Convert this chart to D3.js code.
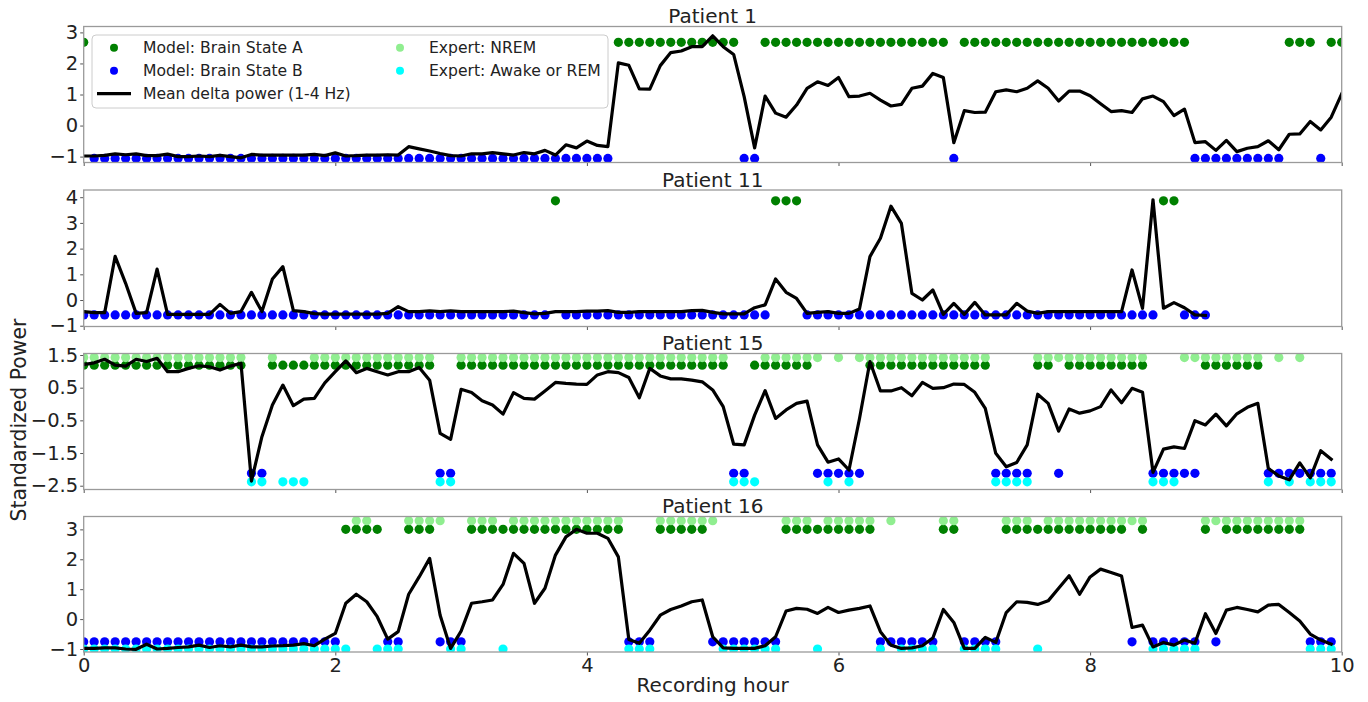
<!DOCTYPE html>
<html>
<head>
<meta charset="utf-8">
<script src="https://cdn.jsdelivr.net/npm/d3@7"></script>
<style>
  html, body { margin: 0; padding: 0; background: #fff; }
  svg { display: block; font-family: "DejaVu Sans", sans-serif; }
</style>
</head>
<body>
<svg id="chart" width="1368" height="702"></svg>
<script>
// ---------- data ----------
// One sample every 5 minutes; hour of sample i = i * EPOCH_MINUTES / 60
const EPOCH_MINUTES = 5;

const patientNames = ["Patient 1", "Patient 11", "Patient 15", "Patient 16"];

// Mean delta power (1-4 Hz), standardized, one value per epoch
const p1Power = [
  -0.98, -0.98, -0.96, -0.91, -0.94, -0.91, -0.97, -0.97, -0.92, -1.00,
  -1.00, -0.98, -1.00, -0.96, -1.00, -1.04, -0.93, -0.95, -0.95, -0.95,
  -0.95, -0.95, -0.93, -0.97, -0.88, -0.98, -0.97, -0.95, -0.95, -0.94,
  -0.95, -0.68, -0.75, -0.82, -0.90, -0.97, -0.98, -0.91, -0.91, -0.87,
  -0.91, -0.95, -0.87, -0.91, -0.80, -0.95, -0.62, -0.72, -0.50, -0.64,
  -0.68, 2.02, 1.94, 1.18, 1.17, 1.93, 2.35, 2.40, 2.54, 2.54,
  2.89, 2.54, 2.29, 0.93, -0.72, 0.95, 0.40, 0.27, 0.66, 1.20,
  1.41, 1.29, 1.55, 0.93, 0.95, 1.04, 0.82, 0.63, 0.68, 1.20,
  1.27, 1.68, 1.55, -0.55, 0.48, 0.42, 0.43, 1.09, 1.15, 1.09,
  1.20, 1.44, 1.20, 0.79, 1.11, 1.11, 0.96, 0.70, 0.45, 0.48,
  0.42, 0.86, 0.95, 0.77, 0.32, 0.53, -0.55, -0.52, -0.80, -0.48,
  -0.84, -0.73, -0.68, -0.49, -0.78, -0.28, -0.27, 0.13, -0.14, 0.27,
  1.02
];
const p11Power = [
  -0.45, -0.49, -0.49, 1.70, 0.65, -0.52, -0.49, 1.20, -0.56, -0.56,
  -0.56, -0.56, -0.56, -0.17, -0.52, -0.45, 0.30, -0.45, 0.82, 1.30,
  -0.41, -0.45, -0.53, -0.55, -0.55, -0.55, -0.55, -0.55, -0.55, -0.52,
  -0.26, -0.45, -0.45, -0.42, -0.45, -0.42, -0.45, -0.45, -0.45, -0.45,
  -0.45, -0.43, -0.49, -0.54, -0.52, -0.45, -0.45, -0.45, -0.43, -0.43,
  -0.41, -0.48, -0.48, -0.45, -0.45, -0.45, -0.45, -0.45, -0.41, -0.40,
  -0.48, -0.54, -0.54, -0.54, -0.30, -0.19, 0.82, 0.30, 0.06, -0.52,
  -0.48, -0.45, -0.52, -0.52, -0.35, 1.69, 2.40, 3.65, 2.98, 0.26,
  0.00, 0.39, -0.56, -0.13, -0.56, -0.09, -0.58, -0.58, -0.58, -0.13,
  -0.43, -0.52, -0.45, -0.45, -0.45, -0.45, -0.45, -0.45, -0.45, -0.45,
  1.17, -0.32, 3.90, -0.32, -0.10, -0.30, -0.58, -0.60
];
const p15Power = [
  1.21, 1.26, 1.37, 1.19, 1.16, 1.37, 1.30, 1.40, 0.99, 0.99,
  1.09, 1.17, 1.14, 1.04, 1.16, 1.25, -2.36, -1.00, -0.03, 0.58,
  -0.05, 0.15, 0.17, 0.65, 0.99, 1.32, 0.96, 1.09, 0.99, 0.89,
  0.99, 0.99, 1.12, 0.73, -0.90, -1.08, 0.45, 0.35, 0.10, -0.03,
  -0.31, 0.35, 0.17, 0.15, 0.40, 0.66, 0.63, 0.61, 0.60, 0.89,
  0.99, 0.96, 0.81, 0.19, 1.09, 0.86, 0.77, 0.77, 0.73, 0.68,
  0.43, -0.08, -1.23, -1.25, -0.34, 0.41, -0.44, -0.18, 0.02, 0.09,
  -1.25, -1.78, -1.68, -2.02, -0.45, 1.30, 0.40, 0.40, 0.50, 0.25,
  0.66, 0.48, 0.50, 0.61, 0.60, 0.36, -0.13, -1.51, -1.92, -1.79,
  -1.25, 0.30, 0.02, -0.83, -0.15, -0.28, -0.21, -0.08, 0.43, 0.04,
  0.48, 0.36, -2.09, -1.38, -1.31, -1.36, -0.51, -0.64, -0.31, -0.67,
  -0.30, -0.10, 0.02, -1.97, -2.20, -2.32, -1.80, -2.26, -1.43, -1.69
];
const p16Power = [
  -0.98, -0.98, -0.96, -0.96, -1.00, -1.01, -0.84, -1.00, -0.98, -0.95,
  -0.93, -0.87, -0.95, -0.89, -0.93, -0.87, -0.93, -0.93, -0.90, -0.89,
  -0.87, -0.82, -0.89, -0.67, -0.48, 0.53, 0.83, 0.58, 0.08, -0.67,
  -0.42, 0.83, 1.41, 2.03, 0.13, -0.98, -0.40, 0.53, 0.58, 0.64,
  1.16, 2.20, 1.86, 0.53, 1.03, 2.14, 2.75, 3.00, 2.87, 2.87,
  2.70, 2.08, -0.68, -0.81, -0.37, 0.13, 0.32, 0.44, 0.58, 0.64,
  -0.59, -0.96, -0.98, -0.98, -0.98, -0.89, -0.59, 0.27, 0.36, 0.33,
  0.19, 0.39, 0.22, 0.30, 0.36, 0.44, -0.42, -0.87, -0.98, -0.96,
  -0.89, -0.63, 0.32, -0.11, -0.98, -0.98, -0.61, -0.78, 0.22, 0.58,
  0.56, 0.49, 0.61, 1.03, 1.45, 0.83, 1.41, 1.67, 1.56, 1.44,
  -0.28, -0.20, -0.93, -0.78, -0.87, -0.70, -0.81, 0.18, -0.48, 0.30,
  0.39, 0.32, 0.24, 0.47, 0.49, 0.22, -0.06, -0.50, -0.70, -0.84
];

// Model brain state per epoch, run-length coded: A = state A, B = state B
const p1Model  = "A1 B50 A12 B2 A18 B1 A22 B9 A3 B1 A2";
const p11Model = "B45 A1 B20 A3 B34 A2 B3";
const p15Model = "A16 B2 A16 B2 A26 B2 A6 B5 A12 B4 A2 B1 A8 B5 A6 B7";
const p16Model = "B25 A4 B2 A3 B3 A15 B3 A5 B7 A9 B6 A2 B4 A12 B1 A1 B5 A1 B1 A8 B3";

// Expert scoring per epoch, run-length coded: N = NREM, W = awake or REM
const p1Expert  = "";
const p11Expert = "";
const p15Expert = "N16 W2 N1 W3 N12 W2 N26 W3 N6 W1 N1 W1 N13 W4 N11 W3 N8 W1 N1 W1 N1 W3";
const p16Expert = "W26 N2 W3 N4 W2 N3 W1 N11 W3 N6 W6 N3 W1 N5 W1 N1 W4 N2 W4 N3 W1 N10 W5 N10 W3";

// Level (in standardized power) at which each label row is drawn: [A, B, N, W]
const p1Levels  = [2.68, -1.06, null, null];
const p11Levels = [3.86, -0.58, null, null];
const p15Levels = [1.19, -2.12, 1.42, -2.38];
const p16Levels = [3.00, -0.76, 3.29, -1.00];

// Axis ticks
const p1YTicks  = [-1, 0, 1, 2, 3];
const p11YTicks = [-1, 0, 1, 2, 3, 4];
const p15YTicks = [-2.5, -1.5, -0.5, 0.5, 1.5];
const p16YTicks = [-1, 0, 1, 2, 3];
const hourTicks = [0, 2, 4, 6, 8, 10];
const hourDomain = [0, 10];

// y-axis limits per panel
const p1YDomain  = [-1.19, 3.19];
const p11YDomain = [-1.03, 4.28];
const p15YDomain = [-2.616, 1.546];
const p16YDomain = [-1.10, 3.43];

const legendItems = [
  { label: "Model: Brain State A", kind: "dot", key: "A" },
  { label: "Model: Brain State B", kind: "dot", key: "B" },
  { label: "Mean delta power (1-4 Hz)", kind: "line" },
  { label: "Expert: NREM", kind: "dot", key: "N" },
  { label: "Expert: Awake or REM", kind: "dot", key: "W" }
];

// ---------- styling / layout ----------
const colors = { A: "#008000", B: "#0000ff", N: "#90ee90", W: "#00ffff" };
const X0 = 83.7, X1 = 1341.7;
const panelBounds = [[26.5, 162.5], [190, 326.5], [353.5, 489.5], [516.5, 652]];
const dotR = 4.6;

function expandRuns(code) {
  if (!code) return [];
  return code.trim().split(/\s+/).flatMap(t => Array(+t.slice(1)).fill(t[0]));
}
const minus = s => String(s).replace("-", "\u2212");

const panels = [
  { power: p1Power,  model: p1Model,  expert: p1Expert,  levels: p1Levels,  ticks: p1YTicks,  domain: p1YDomain },
  { power: p11Power, model: p11Model, expert: p11Expert, levels: p11Levels, ticks: p11YTicks, domain: p11YDomain },
  { power: p15Power, model: p15Model, expert: p15Expert, levels: p15Levels, ticks: p15YTicks, domain: p15YDomain },
  { power: p16Power, model: p16Model, expert: p16Expert, levels: p16Levels, ticks: p16YTicks, domain: p16YDomain }
];

const svg = d3.select("#chart");
svg.append("rect").attr("width", 1368).attr("height", 702).attr("fill", "#fff");

const x = d3.scaleLinear().domain(hourDomain).range([X0, X1]);
const hourOf = i => i * EPOCH_MINUTES / 60;

panels.forEach((p, k) => {
  const [top, bottom] = panelBounds[k];
  const y = d3.scaleLinear().domain(p.domain).range([bottom, top]);
  const g = svg.append("g");

  const clipId = "clip" + k;
  svg.append("clipPath").attr("id", clipId)
    .append("rect").attr("x", X0).attr("y", top).attr("width", X1 - X0).attr("height", bottom - top);

  // title
  g.append("text").attr("x", (X0 + X1) / 2).attr("y", top - 3.5)
    .attr("text-anchor", "middle").attr("font-size", 20).attr("fill", "#222")
    .text(patientNames[k]);

  // y axis
  const yAxis = d3.axisLeft(y).tickValues(p.ticks).tickSize(3.5).tickPadding(2)
    .tickFormat(d => minus(d));
  const ya = g.append("g").attr("transform", `translate(${X0},0)`).call(yAxis);
  ya.select(".domain").remove();
  ya.selectAll("line").attr("stroke", "#555");
  ya.selectAll("text").attr("font-size", 19.5).attr("fill", "#222")
    .attr("font-family", "DejaVu Sans, sans-serif");

  // x axis
  const last = k === panels.length - 1;
  const xAxis = d3.axisBottom(x).tickValues(hourTicks).tickSize(3.5).tickPadding(3)
    .tickFormat(d => last ? d : "");
  const xa = g.append("g").attr("transform", `translate(0,${bottom})`).call(xAxis);
  xa.select(".domain").remove();
  xa.selectAll("line").attr("stroke", "#555");
  xa.selectAll("text").attr("font-size", 19.5).attr("fill", "#222")
    .attr("font-family", "DejaVu Sans, sans-serif");

  const plot = g.append("g").attr("clip-path", `url(#${clipId})`);

  // model state dots
  const model = expandRuns(p.model).map((s, i) => ({ i, s }));
  plot.append("g").selectAll("circle").data(model).join("circle")
    .attr("cx", d => x(hourOf(d.i)))
    .attr("cy", d => y(d.s === "A" ? p.levels[0] : p.levels[1]))
    .attr("r", dotR)
    .attr("fill", d => colors[d.s]);

  // expert scoring dots
  const expert = expandRuns(p.expert).map((s, i) => ({ i, s }));
  plot.append("g").selectAll("circle").data(expert).join("circle")
    .attr("cx", d => x(hourOf(d.i)))
    .attr("cy", d => y(d.s === "N" ? p.levels[2] : p.levels[3]))
    .attr("r", dotR)
    .attr("fill", d => colors[d.s]);

  // mean delta power
  const line = d3.line().x((d, i) => x(hourOf(i))).y(d => y(d));
  plot.append("path").datum(p.power)
    .attr("d", line).attr("fill", "none")
    .attr("stroke", "#000").attr("stroke-width", 3.2)
    .attr("stroke-linejoin", "round").attr("stroke-linecap", "square");

  // frame
  g.append("rect").attr("x", X0).attr("y", top)
    .attr("width", X1 - X0).attr("height", bottom - top)
    .attr("fill", "none").attr("stroke", "#9a9a9a").attr("stroke-width", 1.3);
});

// axis labels
svg.append("text").attr("x", (X0 + X1) / 2).attr("y", 692)
  .attr("text-anchor", "middle").attr("font-size", 20).attr("fill", "#222")
  .text("Recording hour");
svg.append("text").attr("transform", "translate(26,420) rotate(-90)")
  .attr("text-anchor", "middle").attr("font-size", 20.4).attr("fill", "#222")
  .text("Standardized Power");

// legend
const lg = svg.append("g");
lg.append("rect").attr("x", 92).attr("y", 35).attr("width", 516).attr("height", 73)
  .attr("rx", 4).attr("fill", "#fff").attr("fill-opacity", 0.85)
  .attr("stroke", "#cccccc").attr("stroke-width", 1);
const legendCols = [[114, 143], [400, 429]];
const legendRows = [47.7, 70.7, 93.7];
const legendPos = [[0, 0], [0, 1], [0, 2], [1, 0], [1, 1]];
legendItems.forEach((item, j) => {
  const [c, r] = legendPos[j];
  const [mx, tx] = legendCols[c];
  const yy = legendRows[r];
  if (item.kind === "dot") {
    lg.append("circle").attr("cx", mx).attr("cy", yy).attr("r", 4)
      .attr("fill", colors[item.key]);
  } else {
    lg.append("line").attr("x1", mx - 17).attr("x2", mx + 17)
      .attr("y1", yy).attr("y2", yy).attr("stroke", "#000").attr("stroke-width", 3.2);
  }
  lg.append("text").attr("x", tx).attr("y", yy + 5.6)
    .attr("font-size", 15.6).attr("fill", "#222").text(item.label);
});
</script>
</body>
</html>
